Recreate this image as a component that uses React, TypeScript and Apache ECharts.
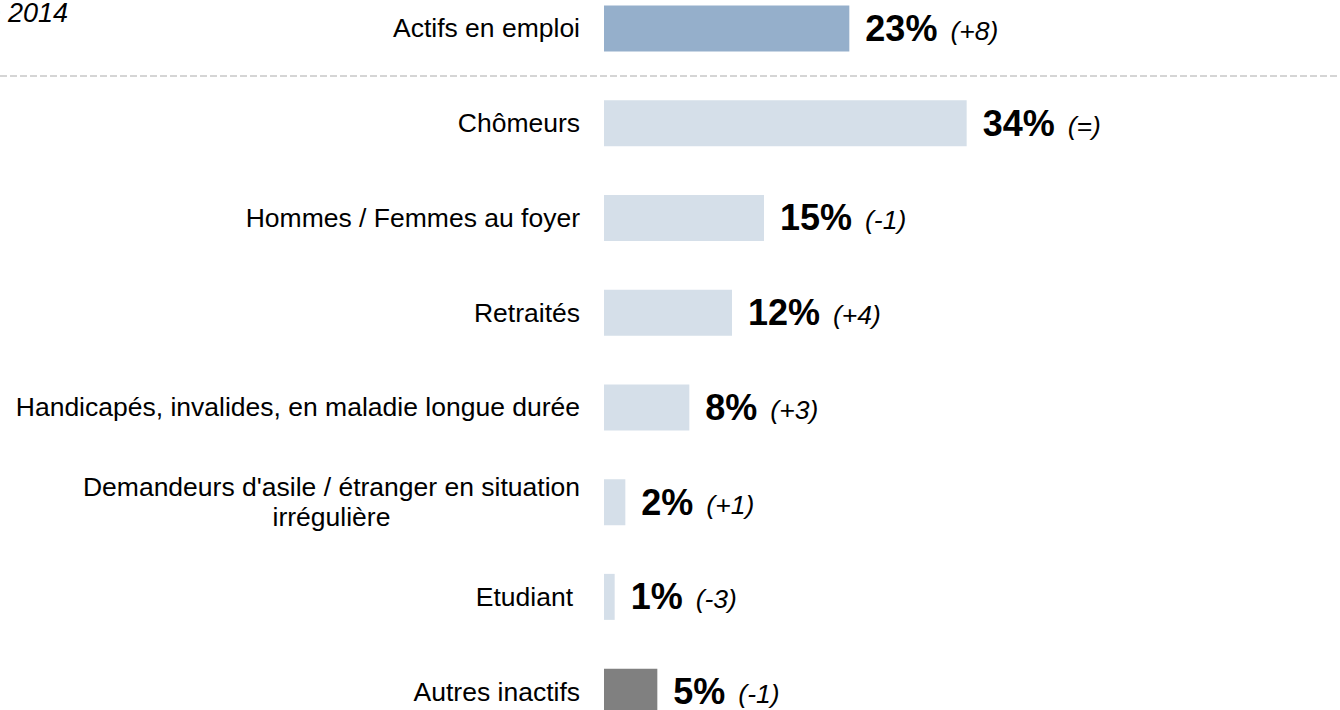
import React, { useEffect, useRef } from "react";
import * as echarts from "echarts";

const categories = [
  "Actifs en emploi",
  "Chômeurs",
  "Hommes / Femmes au foyer",
  "Retraités",
  "Handicapés, invalides, en maladie longue durée",
  "Demandeurs d'asile / étranger en situation\nirrégulière",
  "Etudiant",
  "Autres inactifs",
];
const values = [23, 34, 15, 12, 8, 2, 1, 5];
const deltas = ["(+8)", "(=)", "(-1)", "(+4)", "(+3)", "(+1)", "(-3)", "(-1)"];
const barColors = ["#95afcb", "#d5dfe9", "#d5dfe9", "#d5dfe9", "#d5dfe9", "#d5dfe9", "#d5dfe9", "#808080"];
const cornerNote = "Rappel Octobre 2014";

const FONT = "'Liberation Sans', Arial, Helvetica, sans-serif";
const SHIFT = 19; // chart div starts above the page top

export default function App() {
  const ref = useRef<HTMLDivElement>(null);
  useEffect(() => {
    if (!ref.current) return;
    const chart = echarts.init(ref.current, null, { renderer: "svg" });
    chart.setOption({
      animation: false,
      backgroundColor: "#ffffff",
      grid: { left: 604, right: 0, top: 0, bottom: 0, containLabel: false },
      xAxis: {
        type: "value",
        min: 0,
        max: 69,
        show: false,
        splitLine: { show: false },
      },
      yAxis: {
        type: "category",
        inverse: true,
        data: categories,
        axisLine: { show: false },
        axisTick: { show: false },
        splitLine: { show: false },
        axisLabel: {
          margin: 24,
          color: "#000000",
          fontFamily: FONT,
          fontSize: 26.5,
          lineHeight: 30,
          formatter: (v: string) => {
            const key = v === "Etudiant" ? "e" : "c";
            return v.split("\n").map((l) => `{${key}|${l}}`).join("\n");
          },
          rich: {
            c: { align: "center", fontFamily: FONT, fontSize: 26.5, lineHeight: 30, color: "#000" },
            e: { fontFamily: FONT, fontSize: 26.5, lineHeight: 30, color: "#000", padding: [0, 7, 0, 0] },
          },
        },
      },
      graphic: [
        {
          type: "line",
          shape: { x1: 0, y1: 76 + SHIFT, x2: 1338, y2: 76 + SHIFT },
          style: { stroke: "#c8c8c8", lineWidth: 1.5, lineDash: [7, 3] },
          silent: true,
        },
        {
          type: "text",
          x: 68,
          y: 13 + SHIFT,
          style: {
            text: cornerNote,
            align: "right",
            verticalAlign: "middle",
            font: `italic 27px ${FONT}`,
            fill: "#000",
          },
        },
      ],
      series: [
        {
          type: "bar",
          barWidth: 46,
          data: values.map((v, i) => ({ value: v, itemStyle: { color: barColors[i] } })),
          label: {
            show: true,
            position: "right",
            distance: 16,
            formatter: (p: any) => `{v|${values[p.dataIndex]}%}{d|${deltas[p.dataIndex]}}`,
            rich: {
              v: { fontFamily: FONT, fontWeight: "bold", fontSize: 36, color: "#000" },
              d: { fontFamily: FONT, fontStyle: "italic", fontSize: 26.5, color: "#000", padding: [5, 0, 0, 13] },
            },
          },
        },
      ],
    });
    return () => chart.dispose();
  }, []);
  return (
    <div
      ref={ref}
      style={{ position: "fixed", left: 0, top: -SHIFT, width: 1340, height: 758 }}
    />
  );
}
